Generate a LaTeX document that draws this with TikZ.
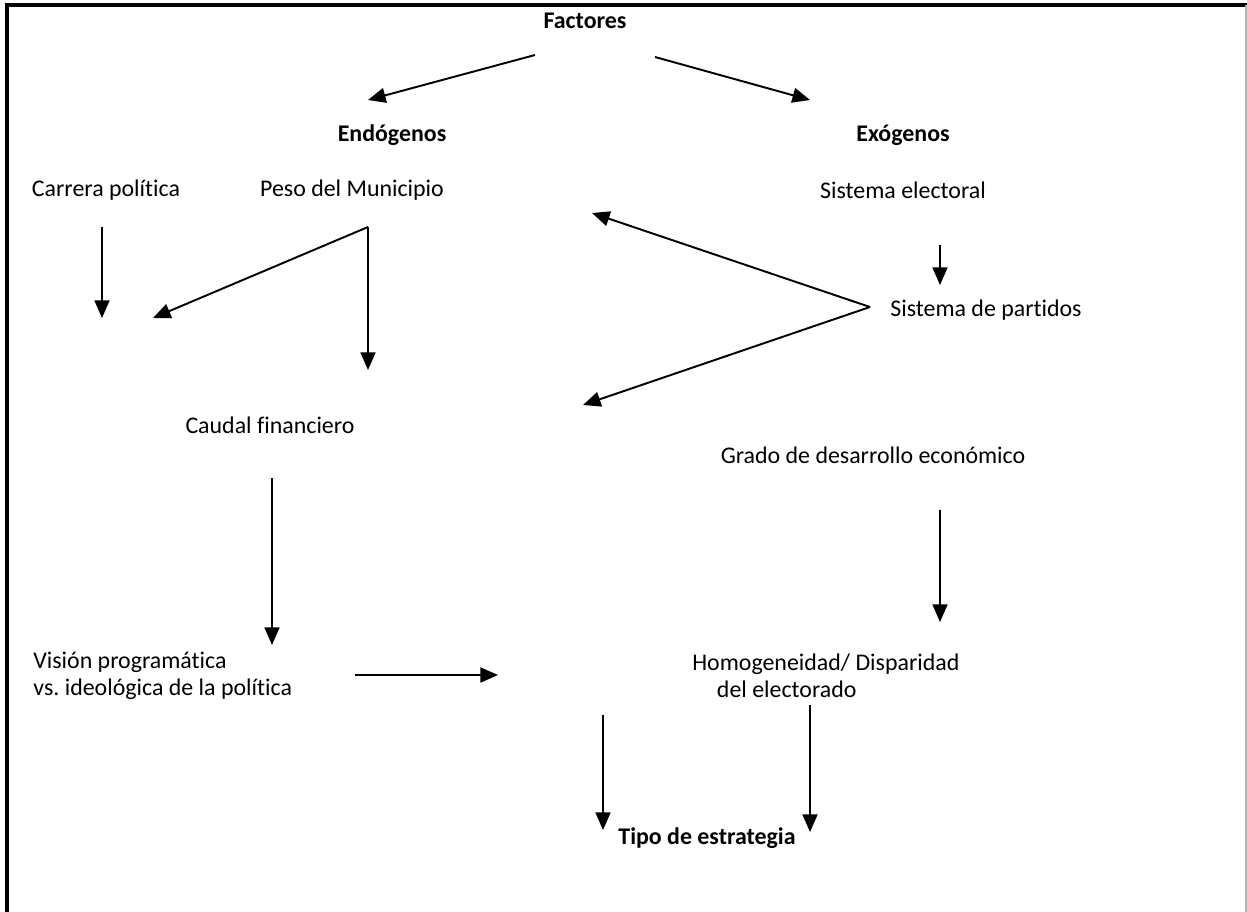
\documentclass[tikz,border=0pt]{standalone}
\usepackage{fontspec}
\setmainfont{Carlito}[Ligatures=NoCommon]
\usetikzlibrary{arrows.meta}
\frenchspacing
\tikzset{
  lbl/.style={inner sep=0pt, font=\fontsize{13.6}{15.5}\selectfont},
  blbl/.style={inner sep=0pt, font=\fontsize{13.6}{15.5}\selectfont\bfseries},
  arr/.style={line width=1.1pt, -{Triangle[length=10pt,width=8.5pt]}},
}
\begin{document}
\begin{tikzpicture}[x=0.02cm, y=-0.02cm]
  \useasboundingbox (0,0) rectangle (1247,912);
  \draw [line width=2.3pt] (7,912) -- (7,5) -- (1247,5);
  \draw [gray!60, line width=0.6pt] (1246,5) -- (1246,912);

  \node [blbl] (fac) at (585,21) {Factores};
  \node [blbl] (endo) at (392,135) {Endógenos};
  \node [blbl] (exo) at (903,135) {Exógenos};
  \node [lbl] (carr) at (106,190) {Carrera política};
  \node [lbl] (peso) at (352,190) {Peso del Municipio};
  \node [lbl] (selec) at (903,190) {Sistema electoral};
  \node [lbl, anchor=west] (spart) at (890,310) {Sistema de partidos};
  \node [lbl] (caud) at (270,425) {Caudal financiero};
  \node [lbl] (grado) at (873,455) {Grado de desarrollo económico};
  \node [lbl, anchor=west, align=left] (vis) at (33,676) {Visión programática\\vs. ideológica de la política};
  \node [lbl, anchor=west, align=left] (homo) at (692,676) {Homogeneidad/ Disparidad\\\hspace{14pt}del electorado};
  \node [blbl] (tipo) at (707,838) {Tipo de estrategia};

  \coordinate (fac-l) at (535,55);
  \coordinate (fac-r) at (655,57);
  \coordinate (endo-t) at (368,100);
  \coordinate (exo-t) at (810,100);
  \coordinate (carr-s) at (102,227);
  \coordinate (carr-t) at (102,318);
  \coordinate (peso-s) at (368,227);
  \coordinate (peso-l) at (153,318);
  \coordinate (peso-t) at (368,370);
  \coordinate (selec-s) at (940,245);
  \coordinate (selec-t) at (940,285);
  \coordinate (spart-s) at (870,307);
  \coordinate (spart-u) at (592,213);
  \coordinate (spart-d) at (583,405);
  \coordinate (caud-s) at (272,478);
  \coordinate (caud-t) at (272,645);
  \coordinate (grado-s) at (940,510);
  \coordinate (grado-t) at (940,622);
  \coordinate (vis-s) at (355,675);
  \coordinate (vis-t) at (498,675);
  \coordinate (mid-s) at (603,715);
  \coordinate (mid-t) at (603,830);
  \coordinate (homo-s) at (810,705);
  \coordinate (homo-t) at (810,832);

  \draw [arr] (fac-l) -- (endo-t);
  \draw [arr] (fac-r) -- (exo-t);
  \draw [arr] (carr-s) -- (carr-t);
  \draw [arr] (peso-s) -- (peso-l);
  \draw [arr] (peso-s) -- (peso-t);
  \draw [arr] (selec-s) -- (selec-t);
  \draw [arr] (spart-s) -- (spart-u);
  \draw [arr] (spart-s) -- (spart-d);
  \draw [arr] (caud-s) -- (caud-t);
  \draw [arr] (grado-s) -- (grado-t);
  \draw [arr] (vis-s) -- (vis-t);
  \draw [arr] (mid-s) -- (mid-t);
  \draw [arr] (homo-s) -- (homo-t);
\end{tikzpicture}
\end{document}
